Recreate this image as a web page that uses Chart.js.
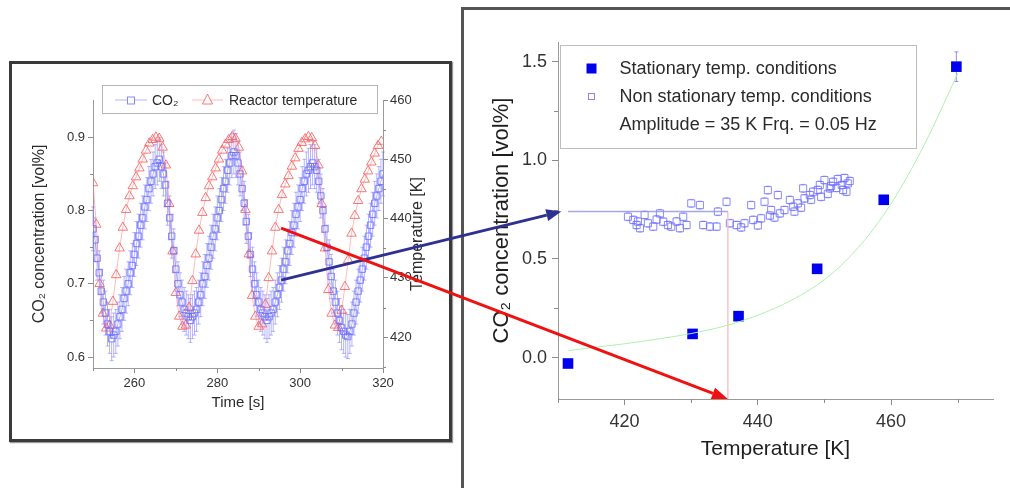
<!DOCTYPE html>
<html>
<head>
<meta charset="utf-8">
<script src="https://cdn.jsdelivr.net/npm/chart.js@4.4.0/dist/chart.umd.min.js"></script>
<style>
    html, body { margin: 0; padding: 0; background: #fff; }
    body { position: relative; width: 1010px; height: 488px; overflow: hidden; }
    .frame { position: absolute; box-sizing: border-box; }
    #leftFrame { left: 9px; top: 61px; width: 443px; height: 381px; border: 3px solid #3a3a3a; box-shadow: 1px 1px 1px #9a9a9a; }
    #rightFrame { left: 461px; top: 7px; width: 620px; height: 540px; border: 3px solid #555; }
    canvas { position: absolute; }
    #leftCanvas { left: 12px; top: 64px; }
    #rightCanvas { left: 465px; top: 10px; }
    #arrowCanvas { left: 0; top: 0; pointer-events: none; }
</style>
</head>
<body>
<div class="frame" id="leftFrame"></div>
<div class="frame" id="rightFrame"></div>
<canvas id="leftCanvas" width="437" height="375"></canvas>
<canvas id="rightCanvas" width="545" height="478"></canvas>
<canvas id="arrowCanvas" width="1010" height="488"></canvas>
<script>
// ---- Left panel: CO2 and reactor temperature over time ----
const co2Start = 250, co2Step = 0.5;          // sampling clock [s]
const co2Values = [
    0.775, 0.76, 0.735, 0.715, 0.69, 0.675, 0.66, 0.645, 0.635, 0.625, 0.63,
    0.635, 0.645, 0.655, 0.665, 0.68, 0.69, 0.70, 0.715, 0.725, 0.74, 0.755, 0.765,
    0.78, 0.79, 0.805, 0.815, 0.83, 0.84, 0.85, 0.86, 0.865, 0.87, 0.86,
    0.85, 0.835, 0.81, 0.79, 0.765, 0.745, 0.72, 0.70, 0.685, 0.675, 0.665, 0.66,
    0.655, 0.65, 0.655, 0.66,
    0.665, 0.675, 0.685, 0.70, 0.71, 0.725, 0.735, 0.75, 0.765, 0.775, 0.79, 0.80,
    0.815, 0.83, 0.84, 0.855, 0.865, 0.875, 0.88, 0.875, 0.865,
    0.85, 0.83, 0.81, 0.785, 0.765, 0.74, 0.72, 0.70, 0.685, 0.675, 0.665, 0.66,
    0.655, 0.65, 0.655, 0.66,
    0.665, 0.675, 0.685, 0.695, 0.705, 0.72, 0.73, 0.745, 0.755, 0.77, 0.78, 0.795,
    0.805, 0.815, 0.83, 0.84, 0.85, 0.855, 0.86, 0.865, 0.86, 0.855,
    0.84, 0.82, 0.80, 0.775, 0.75, 0.73, 0.71, 0.69, 0.675, 0.66, 0.65, 0.64,
    0.635, 0.63, 0.628, 0.635,
    0.645, 0.66, 0.675, 0.69, 0.705, 0.72, 0.735, 0.75, 0.765, 0.78, 0.795, 0.81,
    0.82, 0.83, 0.84, 0.85
];
const co2Err = 0.03;

const tempStart = 250, tempStep = 0.8;        // sampling clock [s]
const tempValues = [
    446, 439, 429, 424, 421.5, 422, 426, 430.5, 435, 438.5, 441.5, 443.8, 445.5, 447,
    448.5, 450, 451.5, 452.7, 453.3, 453.7, 453.5, 452, 449, 442.5, 434.5, 427.5,
    423.5, 421.8, 422, 425, 429.5, 434, 438, 441, 443.5, 445.5, 447, 448.5, 450,
    451.5, 452.5, 453.3, 453.8, 453.5, 452, 448, 441.5, 434, 427, 423.5, 421.8,
    422.2, 425.5, 430, 434.5, 438.5, 441.5, 444, 445.8, 447.2, 448.8, 450.2, 451.8,
    452.8, 453.4, 453.8, 453.6, 452.3, 449, 442.5, 435, 428, 424, 422, 421.6,
    424.5, 428.5, 433, 437.5, 440.5, 443, 445, 446.6, 448, 449.5, 451, 452.3, 453
];

const timeTicks = [260, 280, 300, 320];
const timeMinor = [250, 270, 290, 310];
const co2Ticks = [0.6, 0.7, 0.8, 0.9];
const co2Minor = [0.65, 0.75, 0.85];
const tempTicks = [420, 430, 440, 450, 460];
const tempMinor = [415, 425, 435, 445, 455];

// ---- Right panel: CO2 vs temperature ----
const statTemp = [411.5, 430.2, 437.1, 448.9, 458.9, 469.8];
const statCO2 = [-0.03, 0.12, 0.21, 0.45, 0.80, 1.475];
const statErr = [0.01, 0.01, 0.01, 0.01, 0.015, 0.075];

const nonStatTemp = [
    420.5, 421.3, 421.8, 422.3, 423.0, 423.5, 424.3, 425.3, 425.8, 426.5, 427.0, 428.3,
    428.8, 429.3, 430.0, 431.3, 431.8, 432.8, 433.8, 434.0, 435.3, 435.8, 436.8, 438.0,
    439.0, 439.3, 440.5, 441.0, 441.5, 442.0, 443.0, 443.3, 444.0, 444.8, 445.3, 446.0,
    446.8, 447.0, 447.8, 448.3, 449.3, 449.5, 450.0, 450.8, 451.3, 452.0, 452.6, 453.0,
    453.5, 453.3, 422.0, 424.8, 427.8, 437.5, 440.0, 442.5, 445.5, 448.0, 450.5, 451.8,
    452.8, 453.8, 451.0, 449.0, 446.5, 441.8
];
const nonStatCO2 = [
    0.714, 0.698, 0.672, 0.656, 0.723, 0.681, 0.664, 0.731, 0.689, 0.672, 0.664, 0.656,
    0.714, 0.672, 0.782, 0.773, 0.672, 0.664, 0.664, 0.740, 0.790, 0.681, 0.672, 0.681,
    0.773, 0.698, 0.706, 0.790, 0.849, 0.748, 0.824, 0.731, 0.748, 0.799, 0.765, 0.782,
    0.858, 0.807, 0.824, 0.841, 0.875, 0.815, 0.900, 0.858, 0.891, 0.905, 0.875, 0.910,
    0.883, 0.841, 0.690, 0.700, 0.690, 0.660, 0.670, 0.710, 0.740, 0.800, 0.830, 0.860,
    0.850, 0.895, 0.870, 0.850, 0.760, 0.720
];
const nonStatErr = 0.02;

const fitTemp = [411.6, 415, 420, 425, 430, 435, 440, 445, 450, 455, 460, 465, 470];
const fitCO2 = [0.035, 0.05, 0.07, 0.094, 0.122, 0.16, 0.215, 0.29, 0.395, 0.555, 0.78, 1.08, 1.44];

const tTicks = [420, 440, 460];
const tMinor = [410, 430, 450, 470];
const cTicks = [0.0, 0.5, 1.0, 1.5];
const cMinor = [0.25, 0.75, 1.25];

// marked instant on the left panel and its projection on the right panel
const markTime = 295.4, markCO2 = 0.705, markTemp = 438.4;
const crossTemp = 435.5, crossCO2 = 0.74, crossStartTemp = 411.5, arrowTipTemp = 410.5;

const FONT = "'Liberation Sans', Arial, sans-serif";
Chart.defaults.font.family = FONT;
Chart.defaults.color = '#333';

const co2Points = co2Values.map((v, i) => ({ x: co2Start + i * co2Step, y: v }));
const tempPoints = tempValues.map((v, i) => ({ x: tempStart + i * tempStep, y: v }));

// error bars drawn from the library scales, outside the hollow marker
const errorBarPlugin = {
    id: 'errorBars',
    beforeDatasetsDraw(chart) {
        const ctx = chart.ctx;
        chart.data.datasets.forEach((ds, i) => {
            if (ds.errs === undefined) return;
            const meta = chart.getDatasetMeta(i);
            const yScale = chart.scales[meta.yAxisID];
            const gap = ds.pointRadius * Math.SQRT1_2;
            ctx.save();
            ctx.strokeStyle = ds.errColor;
            ctx.lineWidth = 1;
            meta.data.forEach((pt, j) => {
                const v = ds.data[j].y;
                const e = Array.isArray(ds.errs) ? ds.errs[j] : ds.errs;
                const yTop = yScale.getPixelForValue(v + e);
                const yBot = yScale.getPixelForValue(v - e);
                ctx.beginPath();
                if (yTop < pt.y - gap) {
                    ctx.moveTo(pt.x, pt.y - gap); ctx.lineTo(pt.x, yTop);
                    ctx.moveTo(pt.x - 2, yTop); ctx.lineTo(pt.x + 2, yTop);
                }
                if (yBot > pt.y + gap) {
                    ctx.moveTo(pt.x, pt.y + gap); ctx.lineTo(pt.x, yBot);
                    ctx.moveTo(pt.x - 2, yBot); ctx.lineTo(pt.x + 2, yBot);
                }
                ctx.stroke();
            });
            ctx.restore();
        });
    }
};

function minorTicks(spec, len, color) {
    return {
        id: 'minorTicks',
        afterDraw(chart) {
            const ctx = chart.ctx;
            ctx.save();
            ctx.strokeStyle = color;
            ctx.lineWidth = 1;
            Object.keys(spec).forEach(id => {
                const s = chart.scales[id];
                spec[id].forEach(v => {
                    ctx.beginPath();
                    if (s.isHorizontal()) {
                        const x = Math.round(s.getPixelForValue(v)) + 0.5;
                        ctx.moveTo(x, s.top); ctx.lineTo(x, s.top + len);
                    } else if (s.position === 'left') {
                        const y = Math.round(s.getPixelForValue(v)) + 0.5;
                        ctx.moveTo(s.right, y); ctx.lineTo(s.right - len, y);
                    } else {
                        const y = Math.round(s.getPixelForValue(v)) + 0.5;
                        ctx.moveTo(s.left, y); ctx.lineTo(s.left + len, y);
                    }
                    ctx.stroke();
                });
            });
            ctx.restore();
        }
    };
}

function fixedTicks(list) {
    return scale => { scale.ticks = list.map(v => ({ value: v })); };
}

function axisStyle(extra) {
    return Object.assign({
        grid: { display: true, drawOnChartArea: false, drawTicks: true, tickLength: 5, color: '#8a8a8a' },
        border: { display: true, color: '#9a9a9a', width: 1 }
    }, extra);
}

// ---- left chart ----
const leftLegend = {
    id: 'leftLegend',
    afterDatasetsDraw(chart) {
        const ctx = chart.ctx;
        const co2 = chart.data.datasets[0], temp = chart.data.datasets[1];
        ctx.save();
        ctx.fillStyle = '#fff';
        ctx.strokeStyle = '#b5b5b5';
        ctx.lineWidth = 1;
        ctx.fillRect(90.5, 21.5, 275, 28);
        ctx.strokeRect(90.5, 21.5, 275, 28);
        const y = 36;
        ctx.lineWidth = 1;
        ctx.strokeStyle = co2.borderColor;
        ctx.beginPath(); ctx.moveTo(103, y); ctx.lineTo(135, y); ctx.stroke();
        ctx.fillStyle = '#fff';
        ctx.fillRect(115, y - 3.5, 8, 7);
        ctx.strokeStyle = co2.pointBorderColor;
        ctx.strokeRect(115.5, y - 3, 7, 7);
        ctx.strokeStyle = temp.borderColor;
        ctx.beginPath(); ctx.moveTo(180, y); ctx.lineTo(211, y); ctx.stroke();
        ctx.fillStyle = '#fff';
        ctx.strokeStyle = temp.pointBorderColor;
        ctx.beginPath();
        ctx.moveTo(195.5, y - 6); ctx.lineTo(200.5, y + 4); ctx.lineTo(190.5, y + 4); ctx.closePath();
        ctx.fill(); ctx.stroke();
        ctx.fillStyle = '#2a2a2a';
        ctx.font = '14px ' + FONT;
        ctx.textBaseline = 'middle';
        ctx.fillText('CO₂', 140, y + 1);
        ctx.fillText('Reactor temperature', 217, y + 1);
        // right-hand axis title, reading upwards
        const area = chart.chartArea;
        ctx.translate(406, (area.top + area.bottom) / 2);
        ctx.rotate(-Math.PI / 2);
        ctx.textAlign = 'center';
        ctx.font = '16px ' + FONT;
        ctx.fillText('Temperature [K]', 0, 0);
        ctx.restore();
    }
};

const leftChart = new Chart(document.getElementById('leftCanvas'), {
    type: 'scatter',
    data: {
        datasets: [{
            label: 'CO₂',
            data: co2Points,
            yAxisID: 'y',
            showLine: true,
            borderColor: 'rgba(120,120,255,0.55)',
            borderWidth: 1,
            pointStyle: 'rect',
            pointRadius: 4.5,
            pointBorderWidth: 1,
            pointBorderColor: 'rgba(105,105,250,0.8)',
            pointBackgroundColor: 'rgba(255,255,255,0)',
            errs: co2Err,
            errColor: 'rgba(120,120,255,0.55)'
        }, {
            label: 'Reactor temperature',
            data: tempPoints,
            yAxisID: 'y2',
            showLine: true,
            borderColor: 'rgba(255,120,120,0.5)',
            borderWidth: 1,
            pointStyle: 'triangle',
            pointRadius: 5.5,
            pointBorderWidth: 1,
            pointBorderColor: 'rgba(250,95,95,0.85)',
            pointBackgroundColor: 'rgba(255,255,255,0)'
        }]
    },
    options: {
        responsive: false,
        animation: false,
        events: [],
        layout: { padding: { top: 36, left: 0, right: 0, bottom: 0 } },
        plugins: { legend: { display: false }, tooltip: { enabled: false } },
        scales: {
            x: axisStyle({
                type: 'linear', min: 250, max: 320,
                afterBuildTicks: fixedTicks(timeTicks),
                afterFit: s => { s.height = 71; },
                ticks: { padding: 3, font: { size: 13 }, color: '#333' },
                title: { display: true, text: 'Time [s]', font: { size: 15 }, color: '#2a2a2a', padding: { top: 0, bottom: 27 } }
            }),
            y: axisStyle({
                type: 'linear', position: 'left', min: 0.585, max: 0.951,
                afterBuildTicks: fixedTicks(co2Ticks),
                afterFit: s => { s.width = 81; },
                ticks: { padding: 3, font: { size: 13 }, color: '#333', callback: v => v.toFixed(1) },
                title: { display: true, text: 'CO₂ concentration [vol%]', font: { size: 16 }, color: '#2a2a2a', padding: { top: 18, bottom: 0 } }
            }),
            y2: axisStyle({
                type: 'linear', position: 'right', min: 414.8, max: 460,
                afterBuildTicks: fixedTicks(tempTicks),
                afterFit: s => { s.width = 66; },
                ticks: { padding: 2, font: { size: 13 }, color: '#333' }
            })
        }
    },
    plugins: [errorBarPlugin, minorTicks({ x: timeMinor, y: co2Minor, y2: tempMinor }, 3, '#8a8a8a'), leftLegend]
});

// ---- right chart ----
const rightLegend = {
    id: 'rightLegend',
    afterDatasetsDraw(chart) {
        const ctx = chart.ctx;
        ctx.save();
        ctx.fillStyle = '#fff';
        ctx.strokeStyle = '#bdbdbd';
        ctx.lineWidth = 1;
        ctx.fillRect(95.5, 35.5, 356, 103);
        ctx.strokeRect(95.5, 35.5, 356, 103);
        ctx.fillStyle = '#0000f0';
        ctx.fillRect(121.5, 53.5, 10, 10);
        ctx.strokeStyle = 'rgba(110,110,255,0.85)';
        ctx.strokeRect(123.5, 83.5, 6, 6);
        ctx.fillStyle = '#2a2a2a';
        ctx.font = '18px ' + FONT;
        ctx.textBaseline = 'middle';
        ctx.fillText('Stationary temp. conditions', 154.6, 59);
        ctx.fillText('Non stationary temp. conditions', 154.6, 87);
        ctx.fillText('Amplitude = 35 K Frq. = 0.05 Hz', 154.6, 115);
        ctx.restore();
    }
};

const rightChart = new Chart(document.getElementById('rightCanvas'), {
    type: 'scatter',
    data: {
        datasets: [{
            label: 'fit',
            data: fitTemp.map((t, i) => ({ x: t, y: fitCO2[i] })),
            showLine: true,
            borderColor: '#aef0ae',
            borderWidth: 1,
            cubicInterpolationMode: 'monotone',
            pointRadius: 0
        }, {
            label: 'cross horizontal',
            data: [{ x: crossStartTemp, y: crossCO2 }, { x: crossTemp, y: crossCO2 }],
            showLine: true,
            borderColor: 'rgba(150,150,225,0.85)',
            borderWidth: 1.5,
            pointRadius: 0
        }, {
            label: 'cross vertical',
            data: [{ x: crossTemp, y: crossCO2 }, { x: crossTemp, y: -0.21 }],
            showLine: true,
            borderColor: 'rgba(245,190,190,0.9)',
            borderWidth: 1.5,
            pointRadius: 0
        }, {
            label: 'Non stationary temp. conditions',
            data: nonStatTemp.map((t, i) => ({ x: t, y: nonStatCO2[i] })),
            pointStyle: 'rect',
            pointRadius: 5,
            pointBorderWidth: 1,
            pointBorderColor: 'rgba(110,110,255,0.8)',
            pointBackgroundColor: 'rgba(255,255,255,0)',
            errs: nonStatErr,
            errColor: 'rgba(120,120,255,0.6)'
        }, {
            label: 'Stationary temp. conditions',
            data: statTemp.map((t, i) => ({ x: t, y: statCO2[i] })),
            pointStyle: 'rect',
            pointRadius: 7.5,
            pointBorderWidth: 0,
            pointBackgroundColor: '#0000f0',
            errs: statErr,
            errColor: 'rgba(100,100,230,0.7)'
        }]
    },
    options: {
        responsive: false,
        animation: false,
        events: [],
        layout: { padding: { top: 32, left: 0, right: 17, bottom: 0 } },
        plugins: { legend: { display: false }, tooltip: { enabled: false } },
        scales: {
            x: axisStyle({
                type: 'linear', min: 410, max: 475.3,
                afterBuildTicks: fixedTicks(tTicks),
                afterFit: s => { s.height = 89; },
                grid: { display: true, drawOnChartArea: false, drawTicks: true, tickLength: 6, color: '#8a8a8a' },
                ticks: { padding: 6, font: { size: 18 }, color: '#333' },
                title: { display: true, text: 'Temperature [K]', font: { size: 21 }, color: '#1e1e1e', padding: { top: 0, bottom: 26 } }
            }),
            y: axisStyle({
                type: 'linear', position: 'left', min: -0.21, max: 1.6,
                afterBuildTicks: fixedTicks(cTicks),
                afterFit: s => { s.width = 93; },
                grid: { display: true, drawOnChartArea: false, drawTicks: true, tickLength: 6, color: '#8a8a8a' },
                ticks: { padding: 5, font: { size: 18 }, color: '#333', callback: v => v.toFixed(1) },
                title: { display: true, text: 'CO₂ concentration [vol%]', font: { size: 22 }, color: '#1e1e1e', padding: { top: 24, bottom: 0 } }
            })
        }
    },
    plugins: [errorBarPlugin, minorTicks({ x: tMinor, y: cMinor }, 4, '#8a8a8a'), rightLegend]
});

// ---- arrows joining the marked instant to its projection ----
function drawArrow(ctx, x1, y1, x2, y2, color, width, headLen, headWidth) {
    const ang = Math.atan2(y2 - y1, x2 - x1);
    const bx = x2 - headLen * Math.cos(ang), by = y2 - headLen * Math.sin(ang);
    ctx.strokeStyle = color;
    ctx.lineWidth = width;
    ctx.beginPath(); ctx.moveTo(x1, y1); ctx.lineTo(bx, by); ctx.stroke();
    ctx.fillStyle = color;
    ctx.beginPath();
    ctx.moveTo(x2, y2);
    ctx.lineTo(bx + headWidth / 2 * Math.sin(ang), by - headWidth / 2 * Math.cos(ang));
    ctx.lineTo(bx - headWidth / 2 * Math.sin(ang), by + headWidth / 2 * Math.cos(ang));
    ctx.closePath();
    ctx.fill();
}

const lc = leftChart.canvas, rc = rightChart.canvas;
const actx = document.getElementById('arrowCanvas').getContext('2d');
drawArrow(actx,
    lc.offsetLeft + leftChart.scales.x.getPixelForValue(markTime),
    lc.offsetTop + leftChart.scales.y.getPixelForValue(markCO2),
    rc.offsetLeft + rightChart.scales.x.getPixelForValue(arrowTipTemp),
    rc.offsetTop + rightChart.scales.y.getPixelForValue(crossCO2),
    '#2e3192', 2.8, 15, 12);
drawArrow(actx,
    lc.offsetLeft + leftChart.scales.x.getPixelForValue(markTime),
    lc.offsetTop + leftChart.scales.y2.getPixelForValue(markTemp),
    rc.offsetLeft + rightChart.scales.x.getPixelForValue(crossTemp),
    rc.offsetTop + rightChart.scales.y.getPixelForValue(rightChart.scales.y.min),
    '#f01010', 3, 16, 12);
</script>
</body>
</html>
